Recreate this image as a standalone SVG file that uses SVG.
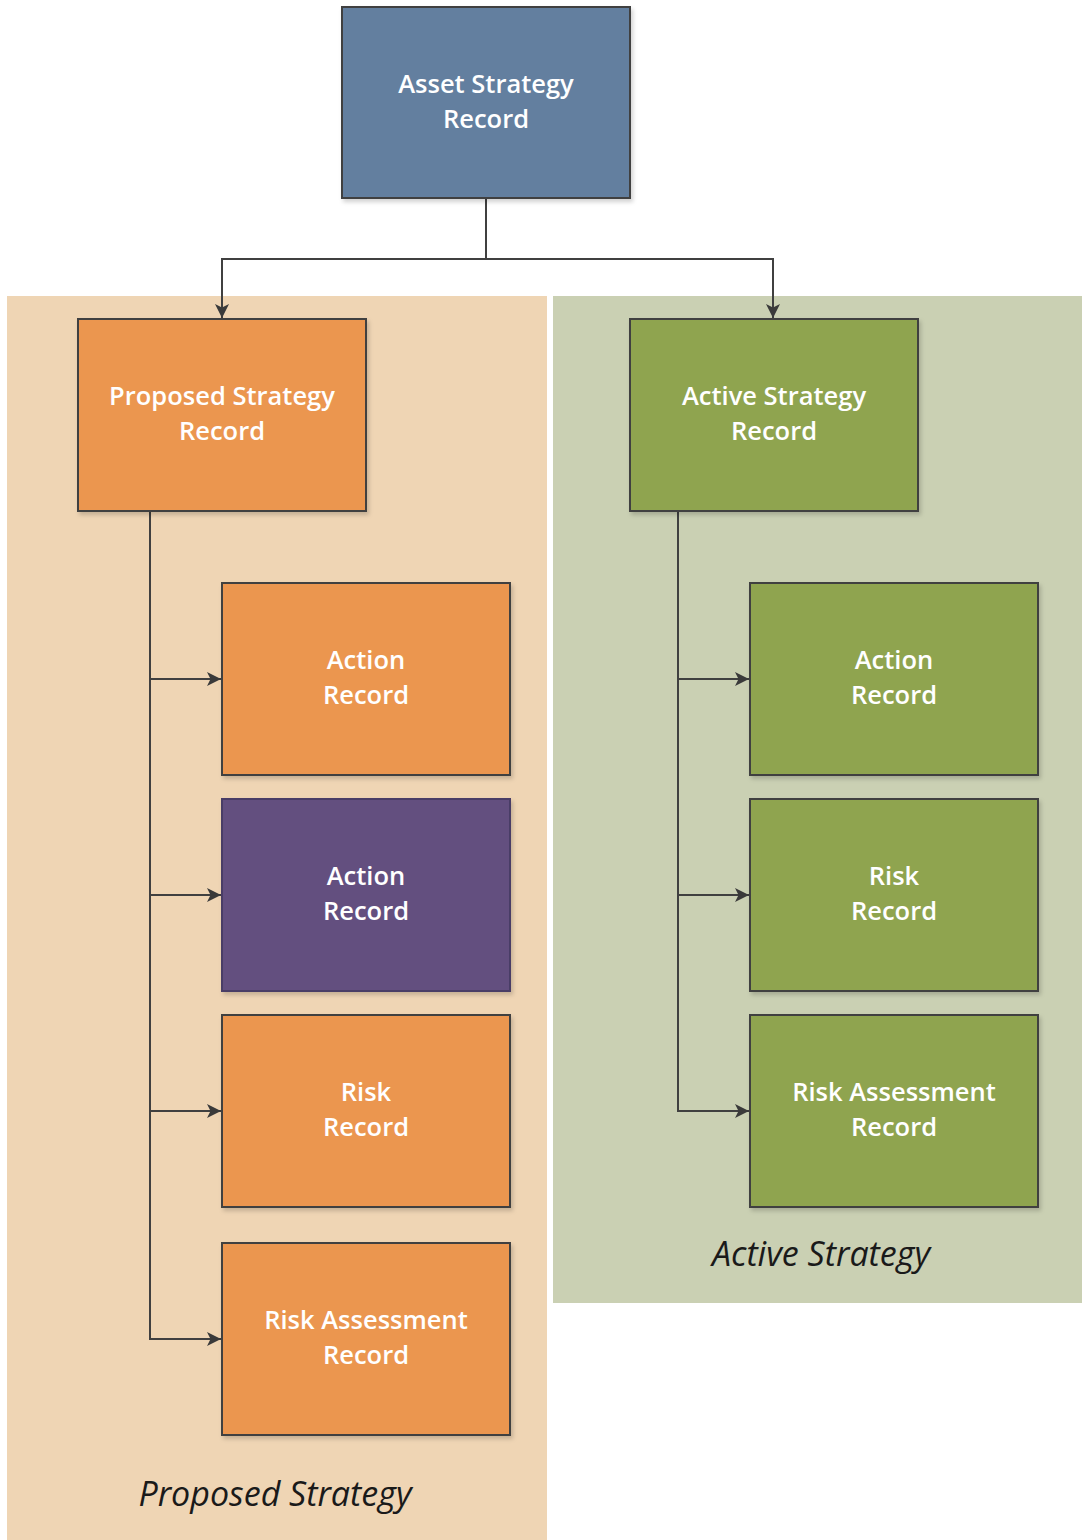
<svg xmlns="http://www.w3.org/2000/svg" width="1082" height="1540" viewBox="0 0 1082 1540">
<defs>
<marker id="arr" viewBox="0 0 10 10" refX="10" refY="5" markerWidth="16" markerHeight="14" orient="auto" markerUnits="userSpaceOnUse">
<path d="M0,0 L10,5 L0,10 L2.5,5 z" fill="#3a3a3a"/>
</marker>
<filter id="sh" x="-5%" y="-5%" width="110%" height="110%"><feDropShadow dx="2" dy="3" stdDeviation="2" flood-color="#000" flood-opacity="0.18"/></filter>
</defs>
<style>
.box{stroke:#404040;stroke-width:2;filter:url(#sh)}
.blue{fill:#647f9f}
.orange{fill:#eb9650}
.green{fill:#8fa450}
.purple{fill:#63507f;stroke:#4a3c66}
.t{font-family:"Open Sans","Noto Sans",sans-serif;font-size:25.5px;fill:#ffffff;text-anchor:middle;font-weight:600}
.cap{font-family:"Open Sans","Noto Sans",sans-serif;font-size:34px;font-style:italic;fill:#1a1a1a;text-anchor:middle}
.c{fill:none;stroke:#404040;stroke-width:2}
</style>
<rect width="1082" height="1540" fill="#ffffff"/>
<g id="panel-proposed">
<rect x="7" y="296" width="540" height="1250" fill="#efd5b4"/>
<text class="cap" x="275" y="1506">Proposed Strategy</text>
</g>
<g id="panel-active">
<rect x="553" y="296" width="535" height="1007" fill="#cad0b3"/>
<text class="cap" x="821" y="1266">Active Strategy</text>
</g>
<g id="connectors">
<path class="c" d="M486,198 V259 H222 V318" marker-end="url(#arr)"/>
<path class="c" d="M486,259 H773 V318" marker-end="url(#arr)"/>
<path class="c" d="M150,511 V1339 H221" marker-end="url(#arr)"/>
<path class="c" d="M150,679 H221" marker-end="url(#arr)"/>
<path class="c" d="M150,895 H221" marker-end="url(#arr)"/>
<path class="c" d="M150,1111 H221" marker-end="url(#arr)"/>
<path class="c" d="M678,511 V1111 H749" marker-end="url(#arr)"/>
<path class="c" d="M678,679 H749" marker-end="url(#arr)"/>
<path class="c" d="M678,895 H749" marker-end="url(#arr)"/>
</g>
<g id="asset-strategy">
<rect class="box blue" x="342" y="7" width="288" height="191"/>
<text class="t" x="486" y="93">Asset Strategy</text>
<text class="t" x="486" y="128">Record</text>
</g>
<g id="proposed-strategy">
<rect class="box orange" x="78" y="319" width="288" height="192"/>
<text class="t" x="222" y="405">Proposed Strategy</text>
<text class="t" x="222" y="440">Record</text>
</g>
<g id="active-strategy">
<rect class="box green" x="630" y="319" width="288" height="192"/>
<text class="t" x="774" y="405">Active Strategy</text>
<text class="t" x="774" y="440">Record</text>
</g>
<g id="p-action-1">
<rect class="box orange" x="222" y="583" width="288" height="192"/>
<text class="t" x="366" y="669">Action</text>
<text class="t" x="366" y="704">Record</text>
</g>
<g id="p-action-2">
<rect class="box purple" x="222" y="799" width="288" height="192"/>
<text class="t" x="366" y="885">Action</text>
<text class="t" x="366" y="920">Record</text>
</g>
<g id="p-risk">
<rect class="box orange" x="222" y="1015" width="288" height="192"/>
<text class="t" x="366" y="1101">Risk</text>
<text class="t" x="366" y="1136">Record</text>
</g>
<g id="p-risk-assessment">
<rect class="box orange" x="222" y="1243" width="288" height="192"/>
<text class="t" x="366" y="1329">Risk Assessment</text>
<text class="t" x="366" y="1364">Record</text>
</g>
<g id="a-action">
<rect class="box green" x="750" y="583" width="288" height="192"/>
<text class="t" x="894" y="669">Action</text>
<text class="t" x="894" y="704">Record</text>
</g>
<g id="a-risk">
<rect class="box green" x="750" y="799" width="288" height="192"/>
<text class="t" x="894" y="885">Risk</text>
<text class="t" x="894" y="920">Record</text>
</g>
<g id="a-risk-assessment">
<rect class="box green" x="750" y="1015" width="288" height="192"/>
<text class="t" x="894" y="1101">Risk Assessment</text>
<text class="t" x="894" y="1136">Record</text>
</g>
</svg>
